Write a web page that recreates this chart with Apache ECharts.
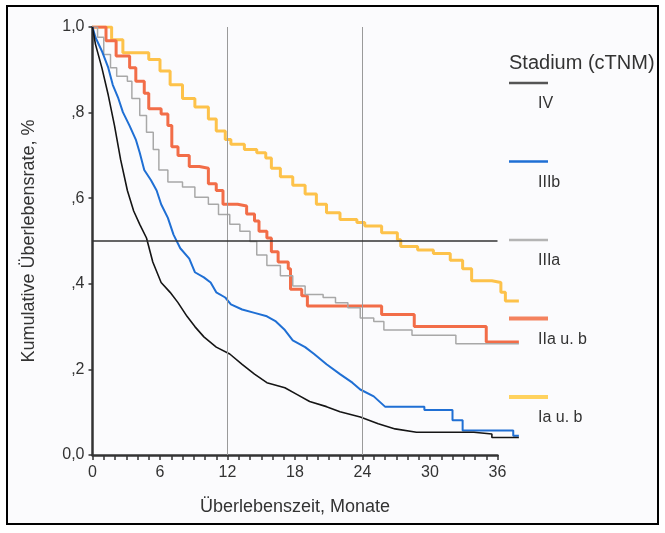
<!DOCTYPE html>
<html lang="de">
<head>
  <meta charset="UTF-8">
  <title>Kumulative Überlebensrate</title>
  <script src="https://cdn.jsdelivr.net/npm/echarts@6/dist/echarts.min.js"></script>
  <style>
    html, body { margin: 0; padding: 0; background: #fff; }
    #chart { width: 665px; height: 533px; }
  </style>
</head>
<body>
  <div id="chart"></div>
  <script>
    // Kaplan-Meier Kurven, [Monate, Überlebensrate]
    // IV und IIIb: fein gestuft, daher als Linienzug; lange Stufen am Ende explizit
    var stageIV = [[0,1],[0.26,0.96],[0.83,0.905],[1.4,0.841],[1.96,0.769],[2.5,0.69],[3.1,0.618],[3.66,0.57],[4.2,0.539],[4.8,0.507],[5.36,0.451],[6.1,0.403],[6.9,0.38],[7.6,0.356],[8.4,0.324],[9.1,0.3],[9.9,0.276],[11.0,0.252],[12.2,0.236],[13.3,0.212],[14.4,0.189],[15.5,0.169],[17.1,0.157],[18.2,0.141],[19.3,0.125],[20.8,0.113],[22.0,0.101],[23.8,0.089],[25.4,0.073],[26.9,0.061],[28.8,0.053],[33.9,0.053],[33.9,0.049],[35.5,0.049],[35.5,0.041],[37.9,0.041]]
    var stageIIIb = [[0,1],[0.26,0.976],[0.83,0.944],[1.4,0.905],[1.8,0.865],[2.3,0.833],[2.7,0.801],[3.3,0.769],[3.85,0.737],[4.2,0.706],[4.6,0.666],[5.2,0.642],[5.7,0.618],[6.1,0.586],[6.7,0.554],[7.2,0.515],[7.8,0.483],[8.6,0.459],[9.1,0.427],[9.9,0.415],[10.5,0.403],[11.0,0.38],[11.8,0.368],[12.3,0.352],[13.3,0.34],[14.4,0.332],[15.5,0.324],[16.3,0.312],[17.1,0.292],[17.8,0.268],[18.9,0.252],[19.7,0.236],[20.8,0.212],[22.0,0.189],[23.1,0.169],[23.8,0.153],[25.0,0.137],[26.0,0.113],[29.5,0.113],[29.5,0.105],[32.0,0.105],[32.0,0.081],[32.9,0.081],[32.9,0.057],[37.4,0.057],[37.4,0.045],[37.9,0.045]]
    var stageIIIa = [[0,1],[0.45,0.976],[1.0,0.936],[1.6,0.905],[2.15,0.885],[3.1,0.873],[3.5,0.833],[4.2,0.793],[4.8,0.754],[5.4,0.714],[5.9,0.666],[6.7,0.638],[8.0,0.626],[9.1,0.602],[10.3,0.586],[11.2,0.562],[12.2,0.539],[13.1,0.523],[14.0,0.499],[14.6,0.467],[15.5,0.443],[16.7,0.419],[17.8,0.395],[18.9,0.375],[20.5,0.368],[21.6,0.356],[22.7,0.344],[23.8,0.32],[25.0,0.312],[25.9,0.292],[28.4,0.28],[32.3,0.26],[37.9,0.26]]
    var stageIIa = [[0,1],[1.2,0.968],[2.1,0.932],[3.3,0.905],[3.85,0.873],[4.6,0.845],[5.0,0.809],[6.1,0.797],[6.7,0.77],[7.05,0.72],[7.6,0.7],[8.6,0.674],[9.5,0.67],[10.3,0.634],[11.0,0.618],[11.6,0.586],[12.9,0.582],[13.7,0.563],[14.4,0.547],[14.8,0.523],[15.5,0.507],[15.9,0.475],[16.5,0.451],[17.4,0.435],[17.6,0.387],[18.6,0.372],[19.1,0.348],[25.7,0.328],[28.6,0.3],[35.0,0.264],[37.9,0.264]]
    var stageIa = [[0,1],[1.7,0.97],[2.7,0.94],[5.0,0.924],[6.0,0.897],[6.9,0.865],[8.0,0.833],[9.1,0.813],[10.3,0.785],[11.0,0.757],[11.8,0.737],[12.3,0.726],[13.5,0.714],[14.6,0.706],[15.4,0.694],[15.9,0.67],[16.7,0.65],[17.8,0.63],[18.9,0.61],[19.9,0.586],[20.8,0.566],[22.0,0.55],[23.5,0.543],[24.2,0.535],[25.7,0.519],[27.1,0.503],[27.4,0.487],[28.9,0.479],[30.3,0.471],[31.8,0.455],[32.9,0.435],[33.7,0.407],[35.5,0.403],[36.3,0.38],[36.7,0.36],[37.9,0.36]]

    var stageNames = ['IV', 'IIIb', 'IIIa', 'IIa u. b', 'Ia u. b']
    var timeMarks = [12, 24]   // senkrechte Linien
    var medianLevel = 0.5
    var axisMonths = 36        // beschriftete Achse
    var dataMonths = 38        // Kurven laufen etwas weiter

    var font = '"Liberation Sans", Arial, sans-serif'
    var legendColors = ['#555555', '#1f6fd4', '#b4b4b4', '#f4825e', '#ffd25e']
    var pxPerMonth = 11.25

    var mCharts = echarts.init(document.getElementById('chart'))

    // Rahmen + Legende selbst zeichnen (Linie oben, Text darunter)
    var legendGraphics = [
      { type: 'rect', z: -10, shape: { x: 7, y: 6, width: 651, height: 518 },
        style: { fill: '#fbfbfd', stroke: '#000', lineWidth: 2 } },
      { type: 'text', x: 509, y: 63, style: { text: 'Stadium (cTNM)', font: '20px ' + font, fill: '#333', verticalAlign: 'middle' } }
    ]
    stageNames.forEach(function (name, i) {
      var y0 = 83 + i * 78.5
      legendGraphics.push({ type: 'line', shape: { x1: 509, y1: y0, x2: 548, y2: y0 },
        style: { stroke: legendColors[i], lineWidth: i >= 3 ? 4 : 2.5 } })
      legendGraphics.push({ type: 'text', x: 538, y: y0 + 21,
        style: { text: name, font: '16px ' + font, fill: '#333', verticalAlign: 'middle' } })
    })

    function kmSeries(name, data, color, width, step) {
      return {
        name: name,
        type: 'line',
        data: data,
        step: step,
        symbol: 'none',
        lineStyle: { color: color, width: width },
        emphasis: { disabled: true }
      }
    }

    var series = [
      kmSeries('Ia u. b', stageIa, '#fdc24a', 3, 'end'),
      kmSeries('IIa u. b', stageIIa, '#f26d48', 3, 'end'),
      kmSeries('IIIa', stageIIIa, '#a8a8a8', 1.5, 'end'),
      kmSeries('IIIb', stageIIIb, '#1f6fd4', 2, false),
      kmSeries('IV', stageIV, '#151515', 1.6, false)
    ]
    // Referenzlinien
    series[0].markLine = {
      silent: true, symbol: 'none', label: { show: false },
      lineStyle: { color: '#9a9a9a', width: 1, type: 'solid' },
      data: timeMarks.map(function (t) { return { xAxis: t } })
    }
    series[4].markLine = {
      silent: true, symbol: 'none', label: { show: false },
      lineStyle: { color: '#333', width: 1.5, type: 'solid' },
      data: [[{ coord: [0, medianLevel] }, { coord: [axisMonths, medianLevel] }]]
    }

    var left = 92.5
    var option = {
      animation: false,
      textStyle: { fontFamily: font },
      // grid 0: Kurven (0..38 Monate), grid 1: sichtbare Zeitachse (0..36)
      grid: [
        { left: left, width: dataMonths * pxPerMonth, top: 27, bottom: 78 },
        { left: left, width: axisMonths * pxPerMonth, top: 27, bottom: 78 }
      ],
      graphic: legendGraphics,
      xAxis: [
        { gridIndex: 0, type: 'value', min: 0, max: dataMonths, show: false },
        {
          gridIndex: 1, type: 'value', min: 0, max: axisMonths, interval: 1,
          name: 'Überlebenszeit, Monate', nameLocation: 'middle', nameGap: 43,
          nameTextStyle: { fontSize: 18, color: '#333' },
          axisLine: { lineStyle: { color: '#333', width: 2.5 } },
          axisTick: { length: 5, lineStyle: { color: '#333', width: 1.5 } },
          axisLabel: { fontSize: 16, color: '#333', margin: 10,
            formatter: function (v) { return v % 6 === 0 ? String(v) : '' } },
          splitLine: { show: false }
        }
      ],
      yAxis: [
        {
          gridIndex: 0, type: 'value', min: 0, max: 1, interval: 0.2,
          name: 'Kumulative Überlebensrate, %', nameLocation: 'middle', nameGap: 54,
          nameTextStyle: { fontSize: 18, color: '#333' },
          axisLine: { show: true, lineStyle: { color: '#333', width: 2.5 } },
          axisTick: { show: true, length: 4, lineStyle: { color: '#333', width: 1.5 } },
          axisLabel: { fontSize: 16, color: '#333', margin: 8,
            formatter: function (v) {
              if (v === 0) return '0,0'
              if (v === 1) return '1,0'
              return ',' + Math.round(v * 10)
            } },
          splitLine: { show: false }
        },
        { gridIndex: 1, type: 'value', min: 0, max: 1, show: false }
      ],
      series: series
    }
    mCharts.setOption(option)
  </script>
</body>
</html>
